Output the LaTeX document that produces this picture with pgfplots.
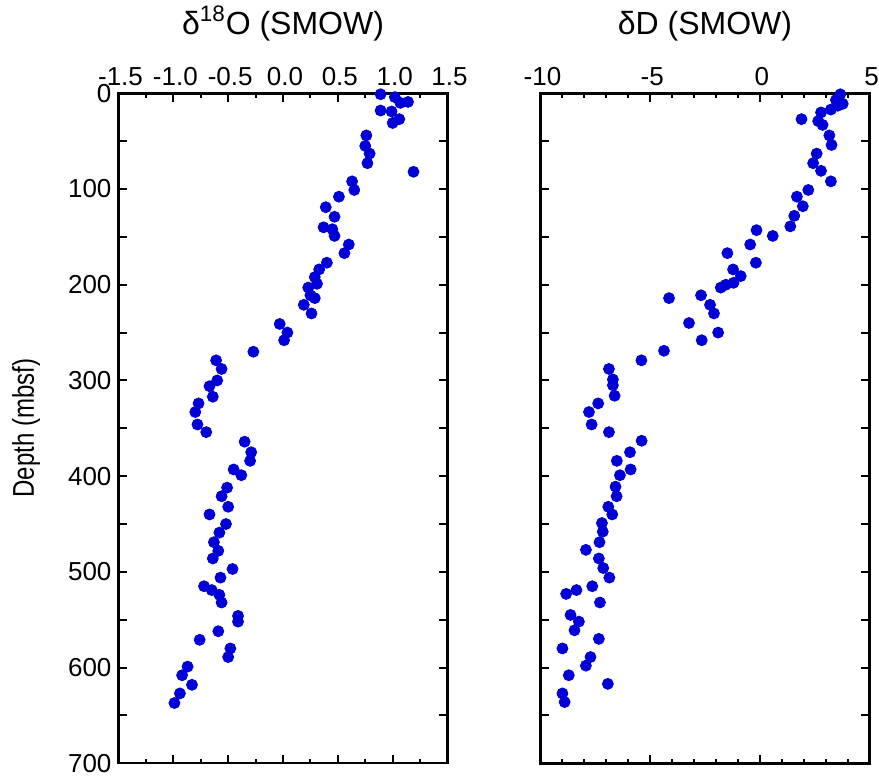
\documentclass[border=0pt]{standalone}
\usepackage{fontspec}
\setmainfont{Liberation Sans}
\newfontfamily\narrowfont{Liberation Sans}[FakeStretch=0.8]
\usepackage{pgfplots}
\pgfplotsset{compat=1.18}
\usepackage{pgfplotstable}

\definecolor{dotblue}{RGB}{0,0,215}

% delta18O (SMOW) vs depth
\pgfplotstableread{
x d
0.89 1
1.02 4
1.14 9
1.07 10
0.89 18
0.99 19
1.06 27
1.00 31
0.76 44
0.75 55
0.79 63
0.77 73
1.19 82
0.63 92
0.65 101
0.51 108
0.39 119
0.47 129
0.37 140
0.45 142
0.47 149
0.60 158
0.56 167
0.40 177
0.33 184
0.29 192
0.31 199
0.23 203
0.25 211
0.29 214
0.19 221
0.26 230
-0.03 241
0.04 250
0.01 258
-0.27 270
-0.61 279
-0.56 288
-0.60 300
-0.67 306
-0.64 317
-0.77 324
-0.80 333
-0.78 346
-0.70 354
-0.35 364
-0.29 375
-0.30 384
-0.45 393
-0.38 399
-0.51 412
-0.56 421
-0.50 432
-0.67 440
-0.52 450
-0.58 459
-0.63 469
-0.59 478
-0.64 486
-0.46 497
-0.57 506
-0.72 515
-0.65 519
-0.58 524
-0.56 532
-0.41 546
-0.41 552
-0.59 562
-0.76 571
-0.48 580
-0.50 589
-0.87 599
-0.92 608
-0.83 618
-0.94 627
-0.99 637
}\oxygen

% deltaD (SMOW) vs depth
\pgfplotstableread{
x d
3.67 1
3.47 7
3.78 11
3.55 13
3.24 17
2.79 20
1.90 27
2.66 29
2.86 33
3.17 44
3.27 54
2.59 63
2.43 73
2.79 81
3.24 92
2.21 101
1.69 108
1.96 118
1.57 128
1.39 139
-0.15 143
0.59 149
-0.44 158
-1.48 167
-0.18 177
-1.22 184
-0.87 191
-1.20 198
-1.55 200
-1.78 203
-2.68 211
-4.14 214
-2.27 221
-2.09 230
-3.23 240
-1.90 250
-2.65 258
-4.37 269
-5.40 279
-6.88 288
-6.70 299
-6.70 305
-6.62 316
-7.37 324
-7.79 333
-7.67 346
-6.88 354
-5.39 363
-5.92 375
-6.52 384
-5.89 393
-6.38 399
-6.58 411
-6.53 421
-6.91 432
-6.73 440
-7.20 449
-7.16 458
-7.31 469
-7.93 477
-7.34 486
-7.14 496
-6.86 506
-7.64 515
-8.36 519
-8.83 523
-7.29 532
-8.63 545
-8.25 552
-8.45 561
-7.34 570
-9.00 580
-7.72 589
-7.93 598
-8.71 608
-6.93 617
-9.00 627
-8.90 636
}\deuterium

\pgfplotsset{
  coreplot/.style={
    scale only axis,
    width=164.5pt, height=335pt,
    y dir=reverse,
    ymin=0, ymax=700,
    ytick={0,100,...,700},
    extra y ticks={50,150,...,650},
    extra y tick labels={},
    extra y tick style={grid=none},
    tick pos=both,
    tick align=inside,
    xticklabel pos=right,
    axis line style={line width=1.2pt},
    every tick/.style={black, line width=1pt},
    major tick length=4.3pt,
    minor tick length=2.3pt,
    tick label style={font=\fontsize{13}{15}\selectfont},
    xticklabel style={xshift=1pt},
    /pgf/number format/assume math mode=true,
    title style={font=\fontsize{16}{19}\selectfont, at={(axis description cs:0.5,1)}, anchor=base, yshift=23.6pt},
    clip=false,
  },
  dots/.style={only marks, mark=*, mark size=2.75pt, color=dotblue, mark options={draw=dotblue, fill=dotblue}},
}

\begin{document}
\begin{tikzpicture}
\begin{axis}[
  coreplot,
  at={(0,0)}, anchor=south west,
  xmin=-1.5, xmax=1.5,
  xtick={-1.5,-1,...,1.5},
  minor x tick num=1,
  xticklabel style={/pgf/number format/.cd, fixed, fixed zerofill, precision=1},
  title={δ\textsuperscript{18}O (SMOW)},
  ylabel={Depth (mbsf)},
  ylabel style={font=\narrowfont\fontsize{15}{18}\selectfont, at={(axis description cs:-0.257,0.5)}, anchor=base, rotate=0},
]
\addplot[dots] table[x=x, y=d] {\oxygen};
\end{axis}

\begin{axis}[
  coreplot,
  at={(211pt,0)}, anchor=south west,
  xmin=-10, xmax=5,
  xtick={-10,-5,0,5},
  minor x tick num=4,
  yticklabels={},
  title={δD (SMOW)},
]
\addplot[dots] table[x=x, y=d] {\deuterium};
\end{axis}

\pgfresetboundingbox
\useasboundingbox (-59.25pt,-8.5pt) rectangle (380.25pt,381.65pt);
\end{tikzpicture}
\end{document}
